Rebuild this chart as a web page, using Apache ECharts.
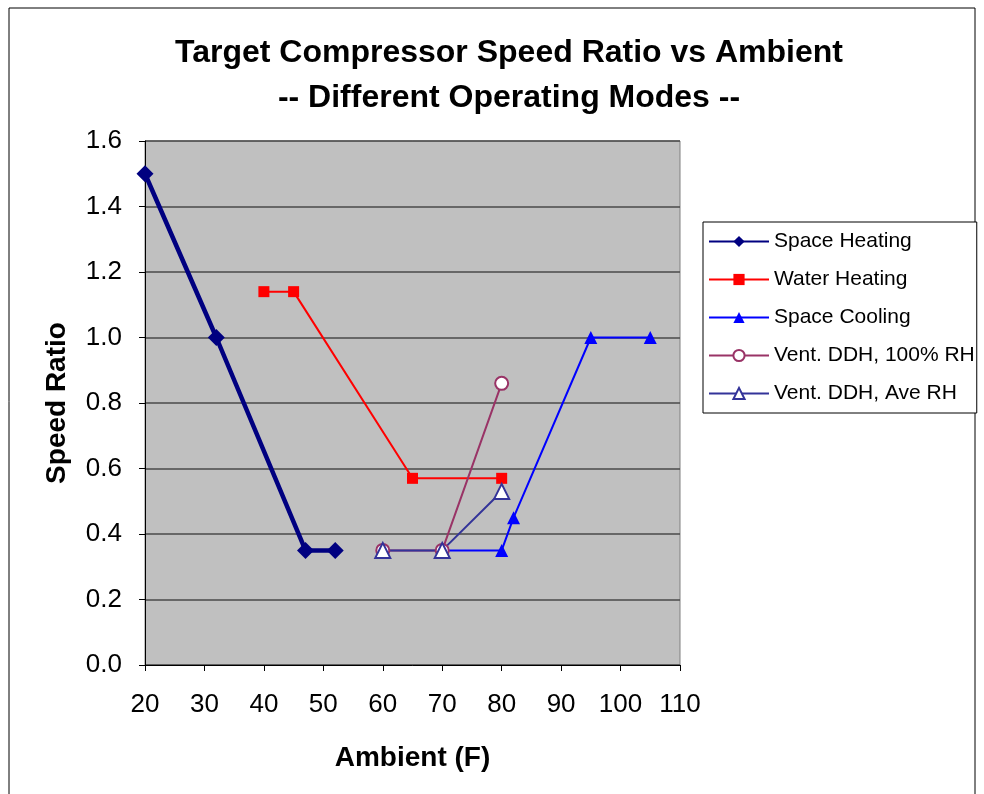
<!DOCTYPE html>
<html><head><meta charset="utf-8">
<script src="https://cdn.jsdelivr.net/npm/echarts@6/dist/echarts.min.js"></script>
<style>html,body{margin:0;padding:0;background:#fff}#c{width:984px;height:794px}</style>
</head><body><div id="c"></div>
<script>
const titleLines = ['Target Compressor Speed Ratio vs Ambient', '-- Different Operating Modes --'];
const xTicks = [20, 30, 40, 50, 60, 70, 80, 90, 100, 110];
const yTicks = [0, 0.2, 0.4, 0.6, 0.8, 1.0, 1.2, 1.4, 1.6];
const seriesNames = ['Space Heating', 'Water Heating', 'Space Cooling', 'Vent. DDH, 100% RH', 'Vent. DDH, Ave RH'];
const spaceHeatingX = [20, 32, 47, 52];
const spaceHeatingY = [1.5, 1.0, 0.35, 0.35];
const waterHeatingX = [40, 45, 65, 80];
const waterHeatingY = [1.14, 1.14, 0.57, 0.57];
const spaceCoolingX = [70, 80, 82, 95, 105];
const spaceCoolingY = [0.35, 0.35, 0.45, 1.0, 1.0];
const vent100X = [60, 70, 80];
const vent100Y = [0.35, 0.35, 0.86];
const ventAveX = [60, 70, 80];
const ventAveY = [0.35, 0.35, 0.53];

const pairs = (xs, ys) => xs.map((x, i) => [x, ys[i]]);
const font = 'Arial, "Liberation Sans", sans-serif';

const chart = echarts.init(document.getElementById('c'));
chart.setOption({
  animation: false,
  backgroundColor: '#fff',
  title: {
    text: titleLines.join('\n'),
    left: 504, top: 26, textAlign: 'center',
    textStyle: {fontFamily: font, fontSize: 32, fontWeight: 'bold', color: '#000', lineHeight: 45}
  },
  graphic: [{
    type: 'rect', shape: {x: 9, y: 8, width: 966, height: 800},
    style: {fill: null, stroke: '#000', lineWidth: 1}, silent: true, z: -1
  }],
  legend: {
    orient: 'vertical', left: 703, top: 222,
    padding: [9, 2, 9, 5], itemGap: 17, itemWidth: 60, itemHeight: 14,
    borderColor: '#000', borderWidth: 1, backgroundColor: '#fff',
    textStyle: {fontFamily: font, fontSize: 21, color: '#000'},
    data: seriesNames
  },
  grid: {left: 145, top: 141, width: 535, height: 524, show: true, backgroundColor: '#C0C0C0', borderColor: '#808080', borderWidth: 1},
  xAxis: {
    type: 'value', min: 20, max: 110, interval: 10,
    name: 'Ambient (F)', nameLocation: 'middle', nameGap: 79,
    nameTextStyle: {fontFamily: font, fontSize: 28, fontWeight: 'bold', color: '#000'},
    axisLine: {show: true, lineStyle: {color: '#000', width: 1}},
    axisTick: {show: true, length: 6, lineStyle: {color: '#000'}},
    axisLabel: {fontFamily: font, fontSize: 26, color: '#000', margin: 27,
      formatter: v => xTicks.includes(v) ? String(v) : ''},
    splitLine: {show: false}
  },
  yAxis: {
    type: 'value', min: 0, max: 1.6, interval: 0.2,
    name: 'Speed Ratio', nameLocation: 'middle', nameGap: 74, nameRotate: 90,
    nameTextStyle: {fontFamily: font, fontSize: 28, fontWeight: 'bold', color: '#000'},
    axisLine: {show: true, lineStyle: {color: '#000', width: 1}},
    axisTick: {show: true, length: 6, lineStyle: {color: '#000'}},
    axisLabel: {fontFamily: font, fontSize: 26, color: '#000', margin: 23,
      formatter: v => yTicks.some(t => Math.abs(t - v) < 1e-9) ? v.toFixed(1) : ''},
    splitLine: {show: true, lineStyle: {color: '#4a4a4a', width: 1.5}}
  },
  series: [
    {name: seriesNames[0], type: 'line', data: pairs(spaceHeatingX, spaceHeatingY),
      symbol: 'diamond', symbolSize: 17, clip: false,
      lineStyle: {color: '#000080', width: 4.5}, itemStyle: {color: '#000080'}},
    {name: seriesNames[1], type: 'line', data: pairs(waterHeatingX, waterHeatingY),
      symbol: 'rect', symbolSize: 11,
      lineStyle: {color: '#FF0000', width: 2}, itemStyle: {color: '#FF0000'}},
    {name: seriesNames[2], type: 'line', data: pairs(spaceCoolingX, spaceCoolingY),
      symbol: 'triangle', symbolSize: 13,
      lineStyle: {color: '#0000FF', width: 2}, itemStyle: {color: '#0000FF'}},
    {name: seriesNames[3], type: 'line', data: pairs(vent100X, vent100Y),
      symbol: 'circle', symbolSize: 13,
      lineStyle: {color: '#993366', width: 2}, itemStyle: {color: '#fff', borderColor: '#993366', borderWidth: 2}},
    {name: seriesNames[4], type: 'line', data: pairs(ventAveX, ventAveY),
      symbol: 'triangle', symbolSize: 15,
      lineStyle: {color: '#333399', width: 2}, itemStyle: {color: '#fff', borderColor: '#333399', borderWidth: 2}}
  ]
});
</script>
</body></html>
